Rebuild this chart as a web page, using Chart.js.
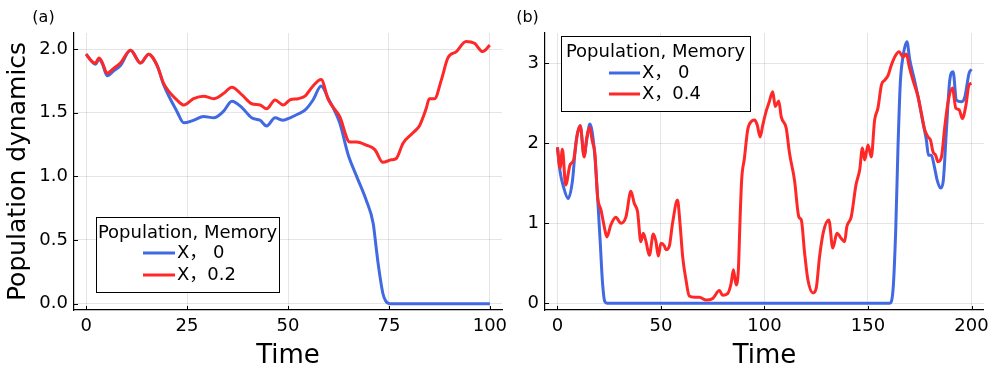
<!DOCTYPE html>
<html>
<head>
<meta charset="utf-8">
<script src="https://cdn.jsdelivr.net/npm/chart.js@4.4.0/dist/chart.umd.min.js"></script>
<style>
  html, body { margin: 0; padding: 0; background: #fff; }
  #wrap { position: relative; width: 995px; height: 369px; }
  #wrap canvas { position: absolute; left: 0; top: 0; }
</style>
</head>
<body>
<div id="wrap">
  <canvas id="chartA" width="995" height="369"></canvas>
  <canvas id="chartB" width="995" height="369"></canvas>
</div>
<script>
const FONT = "DejaVu Sans";
const LEGEND_FONT = '"DejaVu Sans", "Noto Sans CJK SC"';
const BLUE = "rgb(65,105,225)";
const RED = "rgb(255,40,40)";

const xTitle = "Time";
const yTitle = "Population dynamics";
const legendTitle = "Population, Memory";
const labelsA = ["X， 0", "X，0.2"];
const labelsB = ["X， 0", "X，0.4"];

// panel (a) ticks
const xTicksA = [0, 25, 50, 75, 100];
const yTicksA = [0, 0.5, 1.0, 1.5, 2.0];
// panel (b) ticks
const xTicksB = [0, 50, 100, 150, 200];
const yTicksB = [0, 1, 2, 3];

// (a) memory 0 (blue)
const timeA0 = [0, 1.5, 2.3, 3.2, 4.0, 5.2, 6.9, 8.5, 11, 13.5, 15.5, 17.6, 19.2, 22.5, 24.2, 26.6, 29.1, 31.6, 34, 36.1, 38.6, 41, 43.1, 44.7, 46.8, 48.8, 50.5, 52.5, 54.2, 56.2, 58.2, 60, 62.8, 64.9, 67, 69.4, 71.1, 71.8, 72.3, 73.5, 74.2, 75.2, 100];
const popA0 = [1.96, 1.90, 1.88, 1.92, 1.885, 1.79, 1.83, 1.87, 1.99, 1.89, 1.96, 1.87, 1.72, 1.51, 1.42, 1.44, 1.47, 1.46, 1.51, 1.59, 1.54, 1.46, 1.44, 1.395, 1.46, 1.44, 1.46, 1.49, 1.52, 1.60, 1.71, 1.61, 1.42, 1.17, 1.00, 0.81, 0.63, 0.45, 0.32, 0.08, 0.02, 0.0, 0.0];

// (a) memory 0.2 (red)
const timeA2 = [0, 1.5, 2.3, 3.2, 4.0, 5.2, 6.9, 8.5, 11, 13.5, 15.5, 17.6, 19.2, 22.5, 24.2, 26.6, 29.1, 31.6, 34, 36.1, 38.6, 41, 43.1, 44.7, 46.8, 48.8, 50.5, 52.5, 54.2, 56.2, 58.2, 60, 62.8, 65.3, 67, 69.4, 71.5, 73.5, 75.6, 76.8, 78.5, 80.9, 82.6, 84.2, 85, 86.3, 88, 89.6, 91.7, 94.1, 96.2, 98.2, 100];
const popA2 = [1.96, 1.90, 1.89, 1.93, 1.895, 1.81, 1.85, 1.89, 1.99, 1.89, 1.96, 1.87, 1.73, 1.60, 1.56, 1.61, 1.63, 1.61, 1.65, 1.70, 1.64, 1.57, 1.56, 1.53, 1.60, 1.56, 1.60, 1.61, 1.63, 1.71, 1.76, 1.60, 1.47, 1.27, 1.27, 1.245, 1.21, 1.11, 1.13, 1.14, 1.26, 1.34, 1.40, 1.53, 1.61, 1.61, 1.76, 1.93, 1.98, 2.06, 2.045, 1.98, 2.03];

// (b) memory 0 (blue)
const timeB0 = [0, 1.3, 3.0, 5.2, 7.3, 8.9, 11, 12.9, 14.2, 15.7, 17.8, 19.4, 20.7, 21.8, 22.9, 24, 160.5, 162.1, 163.4, 164.5, 165.6, 166.9, 168.8, 170.2, 172.1, 174.2, 176.3, 178.2, 179.2, 180.6, 182.2, 183.4, 185, 186.3, 187.9, 189.5, 191.1, 192.7, 195.2, 196.8, 198.8, 200];
const popB0 = [1.95, 1.645, 1.45, 1.31, 1.54, 2.0, 2.22, 1.85, 2.05, 2.24, 1.92, 1.33, 0.75, 0.25, 0.02, 0, 0, 0.17, 0.92, 1.96, 2.75, 3.08, 3.27, 3.04, 2.83, 2.58, 2.29, 2.04, 1.85, 1.85, 1.69, 1.54, 1.44, 1.52, 2.17, 2.79, 2.895, 2.54, 2.52, 2.58, 2.875, 2.925];

// (b) memory 0.4 (red)
const timeB4 = [0, 1.3, 2.4, 4.0, 6.1, 7.8, 9.7, 11, 12.9, 14.2, 15.5, 16.9, 18.1, 19.4, 21, 22.6, 23.9, 25.8, 28.2, 30.7, 33.1, 35.5, 37.1, 38.7, 40.3, 41.5, 42.8, 44.4, 46.3, 47.6, 48.7, 50, 51.6, 52.4, 54, 55.6, 58, 59.2, 60.5, 62.1, 63.7, 66.1, 68.6, 71.8, 75, 78.2, 79.8, 82.2, 83.9, 85, 86.3, 87.4, 88.2, 89, 90.3, 91.9, 93.6, 95.2, 96.5, 97.9, 99.2, 100.8, 102.1, 104, 105.2, 106.9, 108.1, 110.5, 112.1, 114.5, 116.6, 117.8, 119.4, 121, 123.4, 125, 126.6, 128.5, 131.1, 133, 135, 137.1, 138.7, 139.8, 141.9, 144.2, 146, 147.3, 148.4, 150, 151.6, 153.2, 154.8, 156.5, 158.1, 159.7, 161.3, 162.9, 165, 166.9, 168.6, 169.9, 171.7, 174.2, 175.8, 177.4, 179, 180.2, 181.4, 182.7, 183.8, 185.5, 187.1, 188.7, 190.8, 192.4, 194, 195.6, 197.2, 198.8, 200];
const popB4 = [1.95, 1.69, 1.925, 1.48, 1.73, 1.79, 2.125, 2.22, 1.83, 2.08, 2.2, 2.02, 1.875, 1.33, 1.17, 0.96, 0.83, 0.98, 1.075, 1.00, 1.08, 1.40, 1.25, 1.145, 0.77, 0.875, 0.77, 0.60, 0.865, 0.77, 0.59, 0.75, 0.72, 0.67, 0.71, 1.00, 1.29, 1.00, 0.58, 0.29, 0.09, 0.075, 0.075, 0.04, 0.06, 0.16, 0.10, 0.12, 0.25, 0.42, 0.23, 0.42, 1.04, 1.55, 1.81, 2.17, 2.27, 2.29, 2.23, 2.08, 2.23, 2.40, 2.50, 2.645, 2.46, 2.53, 2.33, 2.19, 1.875, 1.54, 1.08, 1.04, 0.625, 0.29, 0.13, 0.19, 0.58, 0.895, 1.04, 0.69, 0.875, 0.81, 0.77, 0.96, 1.08, 1.48, 1.67, 1.94, 1.79, 1.98, 1.83, 2.29, 2.44, 2.73, 2.79, 2.85, 2.98, 3.08, 3.145, 3.08, 3.115, 2.96, 2.79, 2.58, 2.375, 2.17, 2.08, 2.04, 1.895, 1.85, 1.77, 1.83, 2.21, 2.52, 2.69, 2.44, 2.42, 2.31, 2.46, 2.73, 2.75];

const toPoints = (xs, ys) => xs.map((x, i) => ({ x: x, y: ys[i] }));

// inward tick marks, legend box and panel tag
const decoPlugin = {
    id: "deco",
    beforeDatasetsDraw(chart) {
        const { ctx, chartArea } = chart;
        const xs = chart.scales.x, ys = chart.scales.y;
        ctx.save();
        ctx.strokeStyle = "#000";
        ctx.lineWidth = 1;
        ctx.beginPath();
        xs.ticks.forEach(t => {
            const p = Math.round(xs.getPixelForValue(t.value)) + 0.5;
            ctx.moveTo(p, chartArea.bottom);
            ctx.lineTo(p, chartArea.bottom - 4);
        });
        ys.ticks.forEach(t => {
            const p = Math.round(ys.getPixelForValue(t.value)) + 0.5;
            ctx.moveTo(chartArea.left, p);
            ctx.lineTo(chartArea.left + 4, p);
        });
        ctx.stroke();
        ctx.restore();
    },
    afterDraw(chart, args, opts) {
        const { ctx } = chart;
        const L = opts.legend;
        ctx.save();
        ctx.fillStyle = "#fff";
        ctx.fillRect(L.x, L.y, L.w, L.h);
        ctx.strokeStyle = "#000";
        ctx.lineWidth = 1;
        ctx.strokeRect(L.x + 0.5, L.y + 0.5, L.w, L.h);

        ctx.fillStyle = "#000";
        ctx.font = `18px ${LEGEND_FONT}`;
        ctx.textAlign = "center";
        ctx.textBaseline = "middle";
        ctx.fillText(legendTitle, L.x + L.w / 2, L.titleY);

        ctx.textAlign = "left";
        chart.data.datasets.forEach((ds, i) => {
            const y = L.rowY[i];
            ctx.strokeStyle = ds.borderColor;
            ctx.lineWidth = 3;
            ctx.beginPath();
            ctx.moveTo(L.lineX0, y);
            ctx.lineTo(L.lineX1, y);
            ctx.stroke();
            ctx.fillStyle = "#000";
            ctx.fillText(ds.label, L.textX, y);
        });

        ctx.font = `16px "${FONT}"`;
        ctx.textAlign = "center";
        ctx.fillText(opts.tag, opts.tagX, opts.tagY);
        ctx.restore();
    }
};

function axis(min, max, ticks, fmt, size, title) {
    return {
        type: "linear",
        min: min,
        max: max,
        afterBuildTicks: s => { s.ticks = ticks.map(v => ({ value: v })); },
        afterFit: s => { if (s.isHorizontal()) s.height = size; else s.width = size; },
        grid: { color: "rgba(0,0,0,0.1)", lineWidth: 1, drawTicks: false },
        border: { color: "#000", width: 1.2 },
        ticks: {
            padding: 6,
            color: "#000",
            autoSkip: false,
            maxRotation: 0,
            font: { family: FONT, size: 18 },
            callback: fmt
        },
        title: title ? {
            display: true,
            text: title.text,
            color: "#000",
            font: { family: FONT, size: title.size },
            padding: title.padding
        } : { display: false }
    };
}

function makeChart(id, datasets, scales, padding, deco) {
    return new Chart(document.getElementById(id), {
        type: "line",
        data: { datasets: datasets },
        options: {
            responsive: false,
            devicePixelRatio: 1,
            animation: false,
            layout: { padding: padding },
            elements: { point: { radius: 0 }, line: { borderWidth: 3, cubicInterpolationMode: "monotone" } },
            plugins: { legend: { display: false }, tooltip: { enabled: false }, deco: deco },
            scales: scales
        },
        plugins: [decoPlugin]
    });
}

makeChart("chartA", [
    { label: labelsA[0], data: toPoints(timeA0, popA0), borderColor: BLUE, fill: false, order: 1 },
    { label: labelsA[1], data: toPoints(timeA2, popA2), borderColor: RED, fill: false, order: 0 }
], {
    x: axis(-3, 103, xTicksA, v => String(v), 59, { text: xTitle, size: 26, padding: { top: 0, bottom: -3 } }),
    y: axis(-0.05, 2.126, yTicksA, v => v.toFixed(1), 74, { text: yTitle, size: 25, padding: { top: 3, bottom: 0 } })
}, { left: 0, right: 493, top: 33, bottom: 0 }, {
    tag: "(a)", tagX: 43.5, tagY: 18,
    legend: { x: 96, y: 217, w: 183, h: 75, titleY: 233, rowY: [253, 275], lineX0: 143, lineX1: 175, textX: 177 }
});

makeChart("chartB", [
    { label: labelsB[0], data: toPoints(timeB0, popB0), borderColor: BLUE, fill: false, order: 1 },
    { label: labelsB[1], data: toPoints(timeB4, popB4), borderColor: RED, fill: false, order: 0 }
], {
    x: axis(-6, 206, xTicksB, v => String(v), 59, { text: xTitle, size: 26, padding: { top: 0, bottom: -3 } }),
    y: axis(-0.084, 3.379, yTicksB, v => String(v), 40, null)
}, { left: 505, right: 11, top: 33, bottom: 0 }, {
    tag: "(b)", tagX: 527.5, tagY: 18,
    legend: { x: 561, y: 36, w: 189, h: 75, titleY: 52, rowY: [73, 94], lineX0: 609, lineX1: 640, textX: 642 }
});
</script>
</body>
</html>
